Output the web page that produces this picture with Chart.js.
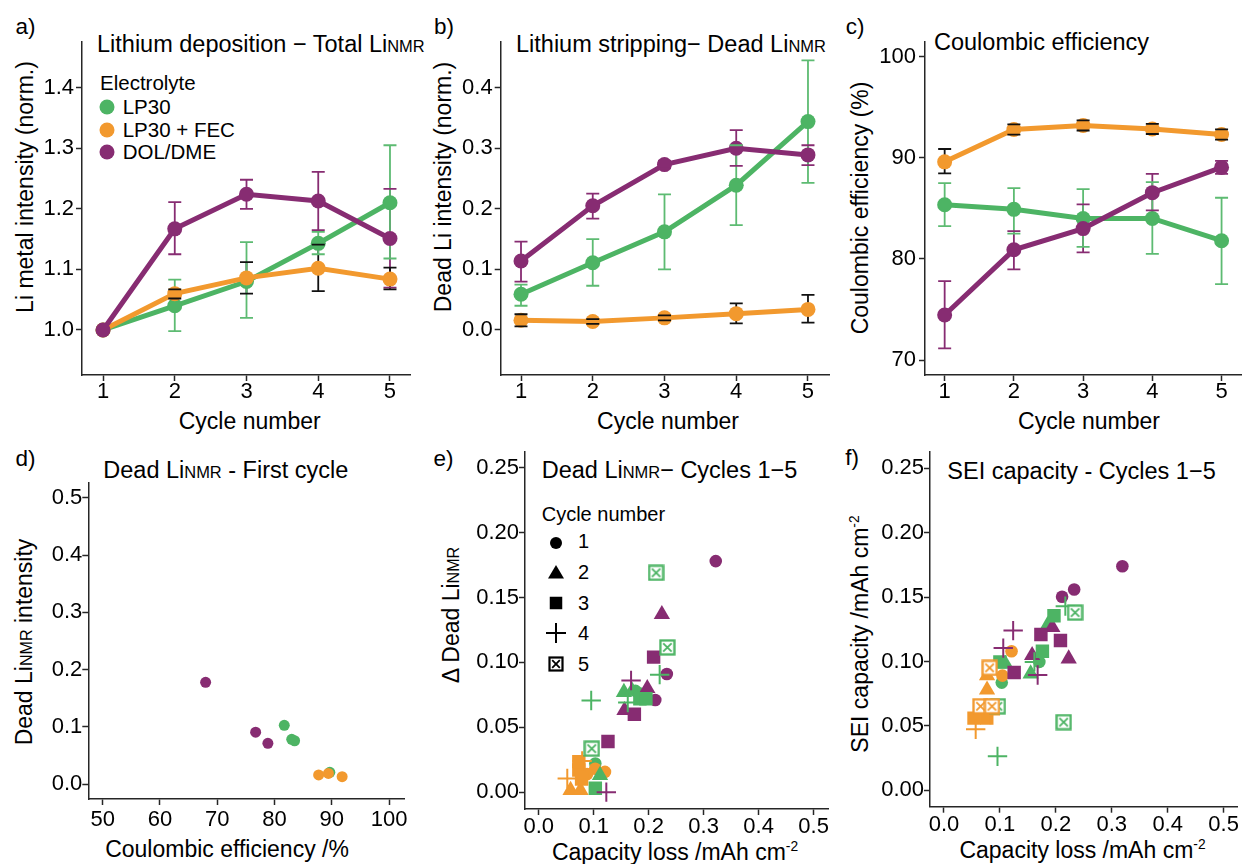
<!DOCTYPE html>
<html>
<head>
<meta charset="utf-8">
<script src="https://cdn.jsdelivr.net/npm/chart.js@4.4.0/dist/chart.umd.min.js"></script>
<style>
  body { margin: 0; background: #fff; width: 1249px; height: 864px; overflow: hidden; position: relative;
         font-family: "Liberation Sans", Arial, sans-serif; color: #000; }
  canvas { position: absolute; }
  .t { position: absolute; white-space: nowrap; line-height: 1; transform: translate(0, -50%); }
  .c { position: absolute; white-space: nowrap; line-height: 1; transform: translate(-50%, -50%); }
  .r { position: absolute; white-space: nowrap; line-height: 1; transform: translate(-50%, -50%) rotate(-90deg); }
  .sc { font-size: 0.7em; }
  .sup { font-size: 0.6em; position: relative; top: -0.65em; }
  .lab { font-size: 22.5px; }
  .ttl { font-size: 23.5px; }
  .ax { font-size: 23px; }
  .leg { font-size: 20.5px; }
</style>
</head>
<body>

<div class="c lab" style="left:25.5px;top:26.7px">a)</div>
<div class="c lab" style="left:444px;top:26.7px">b)</div>
<div class="c lab" style="left:855px;top:27px">c)</div>
<div class="c lab" style="left:25.5px;top:459px">d)</div>
<div class="c lab" style="left:443.5px;top:459px">e)</div>
<div class="c lab" style="left:852px;top:458px">f)</div>

<div class="t ttl" style="left:97px;top:44.7px">Lithium deposition − Total Li<span class="sc">NMR</span></div>
<div class="t ttl" style="left:516px;top:44.7px">Lithium stripping− Dead Li<span class="sc">NMR</span></div>
<div class="t ttl" style="left:934px;top:42.5px">Coulombic efficiency</div>
<div class="t ttl" style="left:103.3px;top:471px">Dead Li<span class="sc">NMR</span> - First cycle</div>
<div class="t ttl" style="left:541.7px;top:471px">Dead Li<span class="sc">NMR</span>− Cycles 1−5</div>
<div class="t ttl" style="left:947.3px;top:471.7px">SEI capacity - Cycles 1−5</div>

<div class="r ax" style="left:25px;top:187px">Li metal intensity (norm.)</div>
<div class="r ax" style="left:442.7px;top:187px">Dead Li intensity (norm.)</div>
<div class="r ax" style="left:860px;top:207.5px">Coulombic efficiency (%)</div>
<div class="r ax" style="left:24px;top:641.5px">Dead Li<span class="sc">NMR</span> intensity</div>
<div class="r ax" style="left:451.3px;top:615px">Δ Dead Li<span class="sc">NMR</span></div>
<div class="r ax" style="left:860px;top:633.5px">SEI capacity /mAh cm<span class="sup">-2</span></div>

<div class="c ax" style="left:249.7px;top:420.8px">Cycle number</div>
<div class="c ax" style="left:668px;top:420.8px">Cycle number</div>
<div class="c ax" style="left:1089px;top:420.8px">Cycle number</div>
<div class="c ax" style="left:227px;top:849px">Coulombic efficiency /%</div>
<div class="c ax" style="left:675px;top:851.5px">Capacity loss /mAh cm<span class="sup">-2</span></div>
<div class="c ax" style="left:1082.5px;top:850px">Capacity loss /mAh cm<span class="sup">-2</span></div>

<div class="t leg" style="left:100px;top:83.3px">Electrolyte</div>
<div id="legA"></div>

<div class="t leg" style="left:541.7px;top:514px;font-size:20px">Cycle number</div>
<svg class="c" style="left:555.7px;top:542.7px" width="14" height="14"><circle cx="7" cy="7" r="6"/></svg>
<svg class="c" style="left:555.7px;top:571.7px" width="17" height="15"><polygon points="8.5,0.5 16.5,14 0.5,14"/></svg>
<svg class="c" style="left:555.7px;top:603.3px" width="13" height="13"><rect x="0" y="0" width="13" height="13"/></svg>
<svg class="c" style="left:555.7px;top:633.3px" width="20" height="20"><path d="M0 10H20M10 0V20" stroke="#000" stroke-width="2"/></svg>
<svg class="c" style="left:555.7px;top:664px" width="16" height="16"><rect x="1.5" y="1.5" width="13" height="13" fill="#fff" stroke="#000" stroke-width="2.2"/><path d="M4.2 4.2L11.8 11.8M11.8 4.2L4.2 11.8" stroke="#000" stroke-width="1.8"/></svg>
<div class="t" style="left:578px;top:541.3px;font-size:20px">1</div>
<div class="t" style="left:578px;top:572px;font-size:20px">2</div>
<div class="t" style="left:578px;top:603px;font-size:20px">3</div>
<div class="t" style="left:578px;top:633px;font-size:20px">4</div>
<div class="t" style="left:578px;top:664px;font-size:20px">5</div>

<script>
// ---- data ----
const cycles = [1, 2, 3, 4, 5];
const electrolytes = ['LP30', 'LP30 + FEC', 'DOL/DME'];

// a) total Li metal intensity (norm.)
const aLP30 = [1.0, 1.04, 1.08, 1.143, 1.21];
const aLP30Lo = [null, 0.998, 1.02, 1.125, 1.118];
const aLP30Hi = [null, 1.083, 1.145, 1.162, 1.305];
const aFEC = [1.0, 1.06, 1.086, 1.102, 1.084];
const aFECLo = [null, 1.052, 1.06, 1.064, 1.067];
const aFECHi = [null, 1.067, 1.112, 1.141, 1.103];
const aDOL = [1.0, 1.167, 1.224, 1.213, 1.151];
const aDOLLo = [null, 1.125, 1.2, 1.165, 1.07];
const aDOLHi = [null, 1.211, 1.248, 1.261, 1.233];

// b) dead Li intensity (norm.)
const bLP30 = [0.059, 0.111, 0.162, 0.239, 0.344];
const bLP30Lo = [0.040, 0.073, 0.100, 0.173, 0.243];
const bLP30Hi = [0.075, 0.150, 0.224, 0.305, 0.445];
const bFEC = [0.016, 0.014, 0.020, 0.027, 0.034];
const bFECLo = [0.006, 0.010, 0.016, 0.011, 0.012];
const bFECHi = [0.026, 0.018, 0.024, 0.044, 0.058];
const bDOL = [0.114, 0.205, 0.273, 0.300, 0.289];
const bDOLLo = [0.080, 0.184, 0.267, 0.271, 0.272];
const bDOLHi = [0.146, 0.225, 0.279, 0.330, 0.305];

// c) coulombic efficiency (%)
const cLP30 = [85.36, 84.9, 84.0, 84.0, 81.8];
const cLP30Lo = [83.25, 82.5, 81.2, 80.5, 77.5];
const cLP30Hi = [87.5, 87.0, 86.9, 87.6, 86.05];
const cFEC = [89.6, 92.8, 93.2, 92.85, 92.3];
const cFECLo = [88.46, 92.3, 92.7, 92.35, 91.8];
const cFECHi = [90.87, 93.3, 93.7, 93.35, 92.8];
const cDOL = [74.45, 80.9, 83.0, 86.55, 89.05];
const cDOLLo = [71.15, 78.96, 80.65, 84.8, 88.4];
const cDOLHi = [77.8, 82.75, 85.4, 88.4, 89.7];

// d) first cycle: [coulombic efficiency, dead Li]
const dLP30 = [[81.7, 0.103], [83.0, 0.0785], [83.5, 0.076], [89.65, 0.021]];
const dFEC = [[87.7, 0.0163], [89.4, 0.019], [91.8, 0.0134]];
const dDOL = [[67.97, 0.178], [76.7, 0.091], [78.84, 0.0715]];

// e) [capacity loss, delta dead Li, cycle]
const eLP30 = [[0.103, 0.022, 1], [0.185, 0.076, 1], [0.176, 0.078, 1],
  [0.155, 0.077, 2], [0.170, 0.078, 2], [0.1115, 0.013, 2],
  [0.184, 0.072, 3], [0.195, 0.072, 3], [0.103, 0.003, 3],
  [0.220, 0.0905, 4], [0.0955, 0.0706, 4], [0.162, 0.069, 4],
  [0.2135, 0.169, 5], [0.234, 0.1115, 5], [0.0966, 0.0335, 5]];
const eFEC = [[0.1205, 0.0156, 1], [0.1027, 0.018, 1], [0.088, 0.014, 1],
  [0.058, 0.0015, 2], [0.076, 0.0015, 2],
  [0.073, 0.017, 3], [0.073, 0.0235, 3], [0.078, 0.010, 3],
  [0.052, 0.0105, 4], [0.079, 0.024, 4]];
const eDOL = [[0.322, 0.178, 1], [0.233, 0.091, 1], [0.212, 0.071, 1],
  [0.224, 0.137, 2], [0.156, 0.063, 2], [0.1975, 0.080, 2],
  [0.209, 0.104, 3], [0.174, 0.060, 3], [0.126, 0.039, 3],
  [0.168, 0.086, 4], [0.123, 0.000, 4]];

// f) [capacity loss, SEI capacity, cycle]
const fLP30 = [[0.1705, 0.0997, 1], [0.1033, 0.0836, 1],
  [0.185, 0.128, 2], [0.155, 0.0905, 2], [0.11, 0.098, 2],
  [0.1967, 0.1355, 3], [0.176, 0.108, 3], [0.100, 0.0997, 3],
  [0.217, 0.143, 4], [0.1617, 0.0997, 4], [0.0957, 0.0263, 4],
  [0.2345, 0.138, 5], [0.214, 0.0529, 5], [0.0963, 0.0652, 5]];
const fFEC = [[0.1208, 0.108, 1], [0.1045, 0.089, 1],
  [0.077, 0.089, 2], [0.077, 0.078, 2],
  [0.0537, 0.056, 3], [0.0765, 0.056, 3], [0.0677, 0.0637, 3],
  [0.083, 0.0588, 4], [0.0567, 0.0473, 4],
  [0.0817, 0.0951, 5], [0.0654, 0.0652, 5], [0.0858, 0.0652, 5]];
const fDOL = [[0.319, 0.174, 1], [0.2328, 0.156, 1], [0.2112, 0.1503, 1],
  [0.1937, 0.1265, 2], [0.223, 0.1022, 2], [0.1576, 0.1048, 2],
  [0.1733, 0.121, 3], [0.2083, 0.1163, 3], [0.1255, 0.0915, 3],
  [0.1237, 0.124, 4], [0.106, 0.1104, 4], [0.1675, 0.0895, 4]];

// tick labels
const cycleTicks = [1, 2, 3, 4, 5];
const aTicks = [1.0, 1.1, 1.2, 1.3, 1.4];
const bTicks = [0.0, 0.1, 0.2, 0.3, 0.4];
const cTicks = [70, 80, 90, 100];
const dXTicks = [50, 60, 70, 80, 90, 100];
const dYTicks = [0.0, 0.1, 0.2, 0.3, 0.4, 0.5];
const capTicks = [0.0, 0.1, 0.2, 0.3, 0.4, 0.5];
const efTicks = [0.00, 0.05, 0.10, 0.15, 0.20, 0.25];

// ---- styles ----
const FONT = '"Liberation Sans", Arial, sans-serif';
const GREEN = '#4DB464', ORANGE = '#F2992E', PURPLE = '#872C72';
const AX = '#262626';
const colors = [GREEN, ORANGE, PURPLE];

// legend of panel a
const legA = document.getElementById('legA');
[107, 130.3, 151.5].forEach((y, i) => {
  legA.insertAdjacentHTML('beforeend',
    `<div class="c" style="left:107.3px;top:${y}px;width:15px;height:15px;border-radius:50%;background:${colors[i]}"></div>` +
    `<div class="t leg" style="left:122.7px;top:${y}px">${electrolytes[i]}</div>`);
});

function axis(a, horiz) {
  return {
    type: 'linear', min: a.min, max: a.max,
    afterBuildTicks: s => { s.ticks = a.ticks.map(v => ({ value: v })); },
    afterFit: s => {
      if (horiz) { s.height = a.size; s.paddingLeft = 0; s.paddingRight = 0; }
      else { s.width = a.size; s.paddingTop = 0; s.paddingBottom = 0; }
    },
    grid: { drawOnChartArea: false, drawTicks: true, tickLength: 6, tickWidth: 1.5, tickColor: AX },
    border: { display: true, color: AX, width: 1.5 },
    ticks: { color: '#000', padding: a.pad, maxRotation: 0, autoSkip: false,
             font: { family: FONT, size: 22 }, callback: v => v.toFixed(a.dec) }
  };
}

// error bars: stems under the markers, caps on top
function drawErr(chart, caps) {
  const { ctx, scales: { x, y } } = chart;
  chart.data.datasets.forEach(ds => {
    if (!ds.errLo) return;
    ctx.save();
    ctx.strokeStyle = ds.errColor;
    ctx.lineWidth = 1.8;
    ctx.beginPath();
    ds.data.forEach((p, i) => {
      const lo = ds.errLo[i], hi = ds.errHi[i];
      if (lo == null) return;
      const px = x.getPixelForValue(p.x), pl = y.getPixelForValue(lo), ph = y.getPixelForValue(hi);
      if (caps) {
        ctx.moveTo(px - 6.5, pl); ctx.lineTo(px + 6.5, pl);
        ctx.moveTo(px - 6.5, ph); ctx.lineTo(px + 6.5, ph);
      } else {
        ctx.moveTo(px, pl); ctx.lineTo(px, ph);
      }
    });
    ctx.stroke();
    ctx.restore();
  });
}
const errorBars = {
  id: 'errorBars',
  beforeDatasetsDraw: chart => drawErr(chart, false),
  afterDatasetsDraw: chart => drawErr(chart, true)
};

function makeChart(g, type, datasets, xs, ys, plugins) {
  const cv = document.createElement('canvas');
  cv.width = g.w; cv.height = g.h;
  cv.style.left = g.l + 'px'; cv.style.top = g.t + 'px';
  document.body.appendChild(cv);
  return new Chart(cv.getContext('2d'), {
    type: type,
    data: { datasets: datasets },
    options: {
      responsive: false, animation: false, events: [],
      layout: { padding: g.pad },
      plugins: { legend: { display: false }, tooltip: { enabled: false } },
      scales: { x: axis(xs, true), y: axis(ys, false) }
    },
    plugins: plugins || []
  });
}

function lineSet(vals, lo, hi, color, barColor) {
  return {
    data: cycles.map((c, i) => ({ x: c, y: vals[i] })),
    borderColor: color, backgroundColor: color, borderWidth: 5, tension: 0,
    pointRadius: 7.5, pointBorderWidth: 0, pointBackgroundColor: color,
    errLo: lo, errHi: hi, errColor: barColor
  };
}
const GBAR = '#5DBB72', KBAR = '#111111', PBAR = PURPLE;

// panel a
makeChart({ l: 0, t: 0, w: 420, h: 440, pad: { left: 0, right: 10, top: 42, bottom: 0 } }, 'line', [
  lineSet(aDOL, aDOLLo, aDOLHi, PURPLE, PBAR),
  lineSet(aFEC, aFECLo, aFECHi, ORANGE, KBAR),
  lineSet(aLP30, aLP30Lo, aLP30Hi, GREEN, GBAR)
], { min: 0.707, max: 5.279, ticks: cycleTicks, dec: 0, size: 65, pad: -2 },
   { min: 0.9257, max: 1.4754, ticks: aTicks, dec: 1, size: 82, pad: 2 }, [errorBars]);

// panel b
makeChart({ l: 420, t: 0, w: 420, h: 440, pad: { left: 0, right: 11, top: 42, bottom: 0 } }, 'line', [
  lineSet(bDOL, bDOLLo, bDOLHi, PURPLE, PBAR),
  lineSet(bFEC, bFECLo, bFECHi, ORANGE, KBAR),
  lineSet(bLP30, bLP30Lo, bLP30Hi, GREEN, GBAR)
], { min: 0.717, max: 5.293, ticks: cycleTicks, dec: 0, size: 65, pad: -2 },
   { min: -0.0743, max: 0.4754, ticks: bTicks, dec: 1, size: 80.7, pad: 2 }, [errorBars]);

// panel c
makeChart({ l: 830, t: 0, w: 419, h: 440, pad: { left: 0, right: 2, top: 42, bottom: 0 } }, 'line', [
  lineSet(cDOL, cDOLLo, cDOLHi, PURPLE, PBAR),
  lineSet(cFEC, cFECLo, cFECHi, ORANGE, KBAR),
  lineSet(cLP30, cLP30Lo, cLP30Hi, GREEN, GBAR)
], { min: 0.716, max: 5.288, ticks: cycleTicks, dec: 0, size: 65, pad: -2 },
   { min: 68.52, max: 101.45, ticks: cTicks, dec: 0, size: 95, pad: 3 }, [errorBars]);

// panel d
function dotSet(arr, color) {
  return { data: arr.map(p => ({ x: p[0], y: p[1] })), pointRadius: 5.5, pointBorderWidth: 0,
           pointBackgroundColor: color, backgroundColor: color };
}
makeChart({ l: 0, t: 440, w: 420, h: 424, pad: { left: 0, right: 16, top: 43, bottom: 0 } }, 'scatter', [
  dotSet(dFEC, ORANGE), dotSet(dLP30, GREEN), dotSet(dDOL, PURPLE)
], { min: 47.49, max: 102.6, ticks: dXTicks, dec: 0, size: 65, pad: 2 },
   { min: -0.0256, max: 0.5256, ticks: dYTicks, dec: 1, size: 88.3, pad: 0 });

// panels e, f: one dataset per cycle and electrolyte, later cycles on top
const boxCache = {};
function crossedBox(color) {
  if (boxCache[color]) return boxCache[color];
  const c = document.createElement('canvas');
  c.width = 17; c.height = 17;
  const g = c.getContext('2d');
  g.fillStyle = '#fff'; g.fillRect(1.5, 1.5, 14, 14);
  g.strokeStyle = color; g.lineWidth = 2.3; g.strokeRect(1.5, 1.5, 14, 14);
  g.lineWidth = 1.8; g.beginPath();
  g.moveTo(4.3, 4.3); g.lineTo(12.7, 12.7); g.moveTo(12.7, 4.3); g.lineTo(4.3, 12.7);
  g.stroke();
  return (boxCache[color] = c);
}
const STYLE = { 1: 'circle', 2: 'triangle', 3: 'rect', 4: 'cross' };
const RADIUS = { 1: 6.3, 2: 9.4, 3: 9.5, 4: 9.7, 5: 8 };
function cycleSets(groups) {
  const sets = [];
  let k = 0;
  cycles.forEach(c => groups.forEach(([arr, color]) => {
    const pts = arr.filter(p => p[2] === c).map(p => ({ x: p[0], y: p[1] }));
    if (!pts.length) return;
    sets.push({
      data: pts, order: 100 - k++,
      pointStyle: c === 5 ? crossedBox(color) : STYLE[c], pointRadius: RADIUS[c],
      pointBackgroundColor: color, pointBorderColor: color, backgroundColor: color,
      pointBorderWidth: c === 4 ? 2 : 0
    });
  }));
  return sets;
}

makeChart({ l: 420, t: 440, w: 420, h: 424, pad: { left: 0, right: 5, top: 10, bottom: 0 } }, 'scatter',
  cycleSets([[eLP30, GREEN], [eDOL, PURPLE], [eFEC, ORANGE]]),
  { min: -0.0249, max: 0.5267, ticks: capTicks, dec: 1, size: 55, pad: -1.5 },
  { min: -0.013, max: 0.2623, ticks: efTicks, dec: 2, size: 105, pad: 0 });

makeChart({ l: 830, t: 440, w: 419, h: 424, pad: { left: 0, right: 5, top: 7, bottom: 0 } }, 'scatter',
  cycleSets([[fLP30, GREEN], [fDOL, PURPLE], [fFEC, ORANGE]]),
  { min: -0.025, max: 0.5245, ticks: capTicks, dec: 1, size: 57.3, pad: -1.2 },
  { min: -0.0128, max: 0.263, ticks: efTicks, dec: 2, size: 100, pad: 0 });
</script>
</body>
</html>
